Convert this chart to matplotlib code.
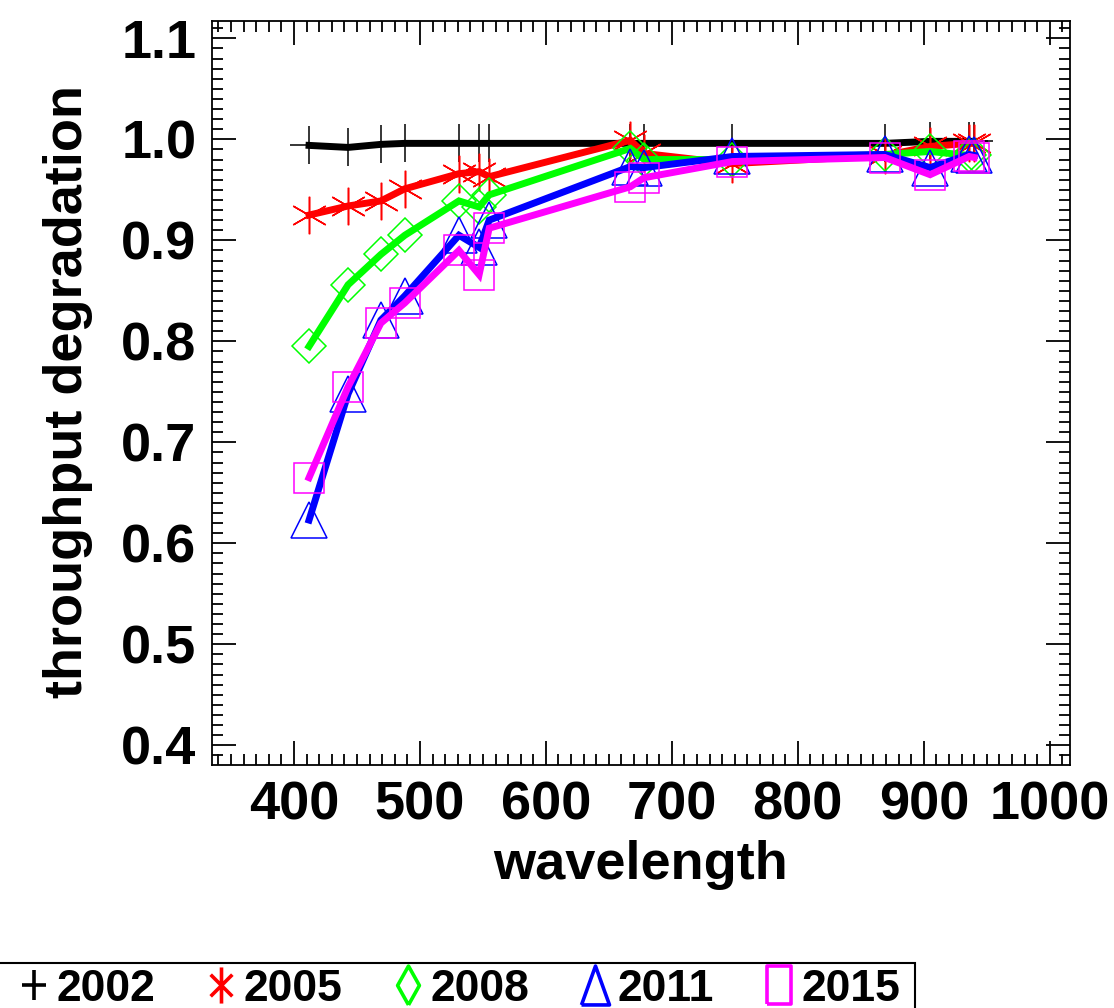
import numpy as np
import matplotlib
matplotlib.use('Agg')
import matplotlib.pyplot as plt
from matplotlib.path import Path
from matplotlib.lines import Line2D
from matplotlib.patches import Rectangle
from matplotlib.ticker import MultipleLocator, FormatStrFormatter

plt.rcParams['font.family'] = ['Liberation Sans', 'DejaVu Sans']
plt.rcParams['font.weight'] = 'bold'

# MODIS-like band centres (nm)
wavelength = [412, 443, 469, 488, 531, 547, 555, 667, 678, 748, 869, 905, 936, 940]

years = ['2002', '2005', '2008', '2011', '2015']
deg_2002 = [0.994, 0.992, 0.995, 0.996, 0.996, 0.996, 0.996, 0.996, 0.996, 0.996, 0.996, 0.998, 0.998, 0.998]
deg_2005 = [0.925, 0.934, 0.939, 0.951, 0.966, 0.968, 0.963, 0.999, 0.986, 0.976, 0.984, 0.993, 0.996, 0.996]
deg_2008 = [0.795, 0.856, 0.886, 0.905, 0.939, 0.933, 0.945, 0.991, 0.980, 0.980, 0.985, 0.988, 0.984, 0.984]
deg_2011 = [0.623, 0.748, 0.821, 0.845, 0.905, 0.893, 0.920, 0.973, 0.972, 0.983, 0.985, 0.972, 0.985, 0.984]
deg_2015 = [0.665, 0.755, 0.818, 0.838, 0.890, 0.866, 0.912, 0.953, 0.962, 0.978, 0.982, 0.965, 0.983, 0.982]

series = [deg_2002, deg_2005, deg_2008, deg_2011, deg_2015]
colors = ['black', '#ff0000', '#00ff00', '#0000ff', '#ff00ff']

asterisk = (6, 2, 0)
markers = ['+', asterisk, 'D', '^', 's']
msizes = [28, 27, 17, 26, 21]

# legend symbols are drawn stretched vertically
leg_plus = Path([(-0.38, 0), (0.38, 0), (0, -0.5), (0, 0.5)],
                [Path.MOVETO, Path.LINETO, Path.MOVETO, Path.LINETO])
a = 0.3
leg_star = Path([(0, -0.5), (0, 0.5), (-a, -0.3), (a, 0.3), (-a, 0.3), (a, -0.3)],
                [Path.MOVETO, Path.LINETO, Path.MOVETO, Path.LINETO, Path.MOVETO, Path.LINETO])
leg_diam = Path([(0, -0.5), (0.28, 0), (0, 0.5), (-0.28, 0), (0, -0.5)])
leg_tri = Path([(-0.36, -0.5), (0.36, -0.5), (0, 0.5), (-0.36, -0.5)])
leg_sq = Path([(-0.32, -0.5), (0.32, -0.5), (0.32, 0.5), (-0.32, 0.5), (-0.32, -0.5)])
leg_markers = [leg_plus, leg_star, leg_diam, leg_tri, leg_sq]
leg_sizes = [22, 26, 28, 28, 28]

fig = plt.figure(figsize=(11.14, 10.08), dpi=100)
ax = fig.add_axes([0.190, 0.2411, 0.7705, 0.7384])

for vals, c, m, ms in zip(series, colors, markers, msizes):
    ax.plot(wavelength, vals, color=c, lw=5, solid_joinstyle='miter')
    ax.plot(wavelength, vals, ls='none', marker=m, ms=ms, mfc='none',
            mec=c, mew=1.1)

ax.set_xlim(334.7, 1016)
ax.set_ylim(0.3805, 1.1175)
ax.xaxis.set_major_locator(MultipleLocator(100))
ax.xaxis.set_minor_locator(MultipleLocator(10))
ax.yaxis.set_major_locator(MultipleLocator(0.1))
ax.yaxis.set_minor_locator(MultipleLocator(0.01))
ax.yaxis.set_major_formatter(FormatStrFormatter('%.1f'))
ax.xaxis.set_major_formatter(FormatStrFormatter('%d'))
ax.tick_params(which='both', direction='in', top=True, right=True, width=1.3)
ax.tick_params(which='major', length=17, labelsize=39, pad=11)
ax.tick_params(which='minor', length=8)
for s in ax.spines.values():
    s.set_linewidth(1.3)

fig.text(0.5749, 1 - 865 / 1008, 'wavelength', ha='center', va='center',
         fontsize=39, fontweight='bold')
fig.text(68 / 1114, 1 - 392 / 1008, 'throughput degradation', ha='center',
         va='center', rotation=90, fontsize=39, fontweight='bold')

handles = [Line2D([], [], ls='none', marker=lm, ms=s, mfc='none', mec=c, mew=2.6)
           for lm, s, c in zip(leg_markers, leg_sizes, colors)]
leg = fig.legend(handles, years, loc='upper left', bbox_to_anchor=(0.013, 1 - 969 / 1008),
                 ncol=5, fontsize=32, frameon=False, borderpad=0.0,
                 handlelength=0.9, handletextpad=0.05, columnspacing=1.03,
                 borderaxespad=0)

# legend box runs off the bottom of the figure
fig.add_artist(Rectangle((-0.01, -0.05), 0.01 + 915 / 1114, 0.05 + 1 - 963 / 1008,
                         transform=fig.transFigure, fill=False, ec='black', lw=1.5,
                         clip_on=False))

fig.savefig('out.png', dpi=100)
